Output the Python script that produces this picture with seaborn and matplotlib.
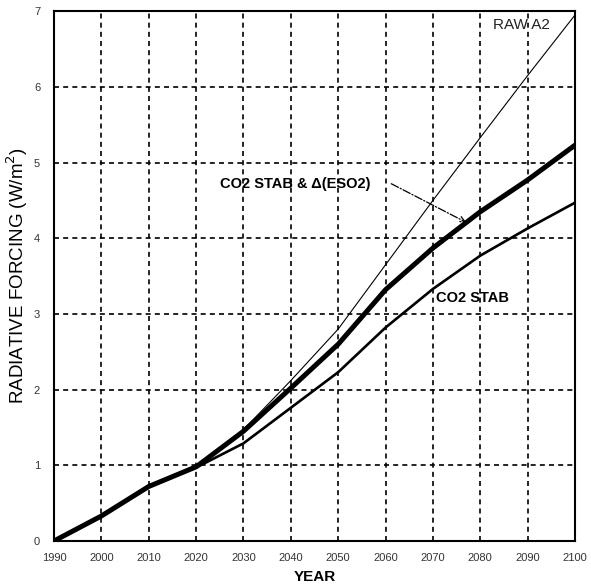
import matplotlib
matplotlib.use("Agg")
import matplotlib.pyplot as plt
import seaborn as sns
import pandas as pd

years = [1990, 2000, 2010, 2020, 2030, 2040, 2050, 2060, 2070, 2080, 2090, 2100]
raw_a2 = [0.0, 0.33, 0.72, 0.98, 1.47, 2.12, 2.80, 3.65, 4.50, 5.33, 6.15, 6.95]
co2_stab_dso2 = [0.0, 0.33, 0.72, 0.98, 1.45, 2.02, 2.60, 3.32, 3.87, 4.35, 4.77, 5.23]
co2_stab = [0.0, 0.33, 0.72, 0.97, 1.29, 1.76, 2.23, 2.82, 3.33, 3.77, 4.13, 4.47]

x_ticks = list(range(1990, 2101, 10))
y_ticks = list(range(0, 8))

sns.set_style("white")
plt.rcParams["font.family"] = ["Liberation Sans", "DejaVu Sans"]
plt.rcParams["text.color"] = "black"
plt.rcParams["axes.labelcolor"] = "black"

fig = plt.figure(figsize=(5.91, 5.87), dpi=100)
ax = fig.add_axes([0.0914, 0.0784, 0.8816, 0.9026])

series = [
    ("RAW A2", raw_a2, 0.8),
    ("CO2 STAB", co2_stab, 1.9),
    ("CO2 STAB & Δ(ESO2)", co2_stab_dso2, 3.6),
]
for name, vals, lw in series:
    df = pd.DataFrame({"year": years, "forcing": vals})
    sns.lineplot(data=df, x="year", y="forcing", ax=ax, color="black",
                 linewidth=lw, legend=False)

ax.set_xlim(1990, 2100)
ax.set_ylim(0, 7)
ax.set_xticks(x_ticks)
ax.set_yticks(y_ticks)
ax.tick_params(axis="x", length=0, labelsize=8, pad=9, colors="#333333")
ax.tick_params(axis="y", length=0, labelsize=8, pad=10, colors="#333333")

# dashed interior grid
dash = (0, (3, 2.5))
for xv in x_ticks[1:-1]:
    ax.axvline(xv, color="black", linestyle=dash, linewidth=1.2, zorder=0)
for yv in y_ticks[1:-1]:
    ax.axhline(yv, color="black", linestyle=dash, linewidth=1.2, zorder=0)

for sp in ax.spines.values():
    sp.set_linewidth(1.5)
    sp.set_color("black")

ax.set_xlabel("YEAR", fontsize=11, fontweight="bold")
ax.xaxis.set_label_coords(0.5, -0.068)
ax.xaxis.label.set_va("center")
ax.set_ylabel("RADIATIVE FORCING (W/m$^2$)", fontsize=13.5)
ax.yaxis.set_label_coords(-0.071, 0.5)
ax.yaxis.label.set_va("center")

ax.text(2082.6, 6.82, "RAW A2", fontsize=11, ha="left", va="center",
        color="#222222")
ax.text(2041.0, 4.72, "CO2 STAB & Δ(ESO2)", fontsize=10.5, fontweight="bold",
        ha="center", va="center", color="black")
ax.text(2070.6, 3.21, "CO2 STAB", fontsize=10.5, fontweight="bold",
        ha="left", va="center", color="black")
ax.annotate("", xy=(2077.0, 4.21), xytext=(2061.2, 4.72),
            arrowprops=dict(arrowstyle="->", color="black", linestyle="-.",
                            linewidth=0.9, shrinkA=0, shrinkB=0))

fig.savefig("out.png", dpi=100)
